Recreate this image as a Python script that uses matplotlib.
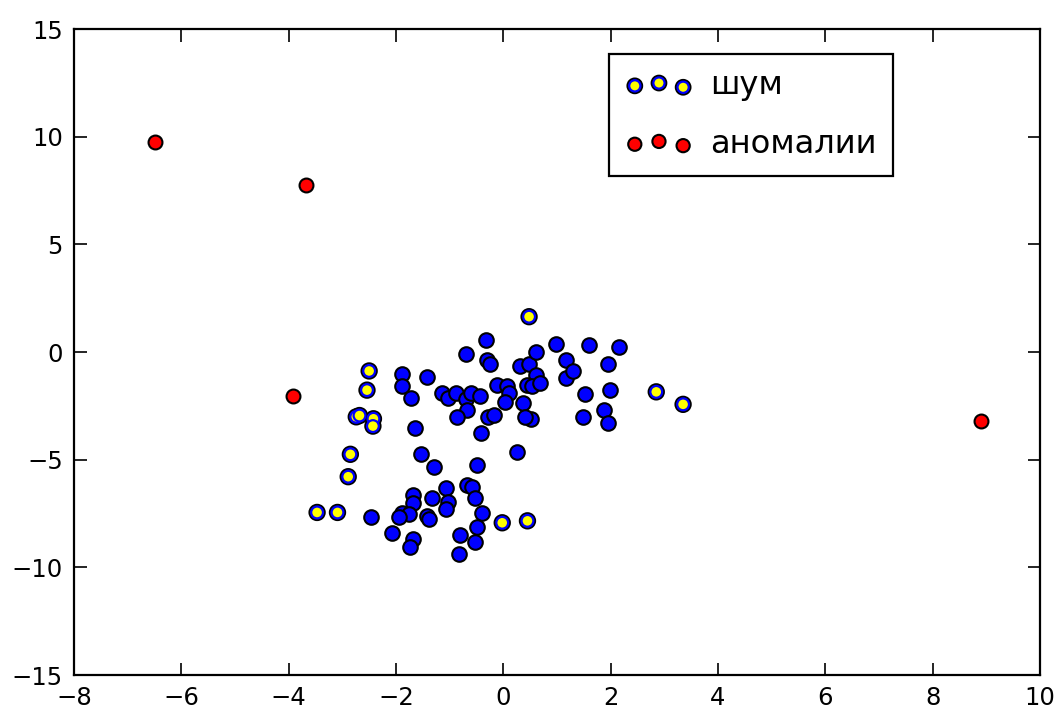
import matplotlib
matplotlib.use("Agg")
import matplotlib.pyplot as plt
import matplotlib.patheffects as pe

# Cluster members
cluster_x = [-0.69, -0.33, -0.30, -0.24, -1.88, -1.42, -1.88, -1.72, -1.14, -1.03,
             -0.89, -0.69, -0.61, -0.44, -0.67, -0.87, -0.29, -0.18, -1.65, -0.41,
             -0.11, 0.06, 0.10, 0.04, 0.32, 0.48, 0.60, 0.60, 0.45, 0.54,
             0.68, 0.36, 0.51, 0.41, 0.99, 1.16, 1.16, 1.60, 2.15, 1.96,
             1.30, 1.53, 1.99, 1.49, 1.88, 1.96, 0.25, -1.53, -1.30, -0.49,
             -1.06, -0.68, -0.58, -1.03, -1.07, -0.52, -0.40, -0.49, -0.80, -0.53,
             -0.83, -2.46, -2.07, -1.69, -1.69, -1.89, -1.76, -1.33, -1.43, -1.38,
             -1.69, -1.73, -1.95]
cluster_y = [-0.10, 0.55, -0.37, -0.57, -1.02, -1.18, -1.56, -2.14, -1.92, -2.14,
             -1.92, -2.20, -1.89, -2.05, -2.70, -3.01, -3.02, -2.93, -3.53, -3.76,
             -1.54, -1.56, -1.92, -2.31, -0.65, -0.56, 0.01, -1.07, -1.54, -1.58,
             -1.46, -2.39, -3.09, -3.02, 0.38, -0.35, -1.19, 0.32, 0.21, -0.57,
             -0.90, -1.93, -1.75, -3.01, -2.70, -3.30, -4.66, -4.74, -5.34, -5.25,
             -6.32, -6.16, -6.29, -6.96, -7.29, -6.80, -7.46, -8.14, -8.52, -8.80,
             -9.38, -7.65, -8.41, -6.64, -7.03, -7.47, -7.54, -6.78, -7.63, -7.76,
             -8.70, -9.05, -7.65]

# Noise points
noise_x = [0.48, -2.50, -2.54, -2.74, -2.68, -2.42, -2.43, -2.85, -2.89, -3.47,
           -3.09, -0.02, 0.45, 2.85, 3.35]
noise_y = [1.64, -0.88, -1.77, -3.01, -2.95, -3.10, -3.44, -4.75, -5.79, -7.45,
           -7.45, -7.93, -7.84, -1.85, -2.43]

# Anomalies
anomaly_x = [-6.49, -3.67, -3.91, 8.90]
anomaly_y = [9.75, 7.75, -2.05, -3.20]

labels = ["шум", "аномалии"]
x_ticks = [-8, -6, -4, -2, 0, 2, 4, 6, 8, 10]
y_ticks = [-15, -10, -5, 0, 5, 10, 15]

plt.rcParams["font.family"] = ["DejaVu Sans"]

fig = plt.figure(figsize=(10.6, 7.11), dpi=100, facecolor="white")
ax = fig.add_axes([0.0698, 0.0506, 0.9113, 0.9086])

ax.scatter(cluster_x, cluster_y, s=110, c="blue", edgecolors="black",
           linewidths=1.5, zorder=2)
ax.scatter(noise_x, noise_y, s=72, c="yellow", edgecolors="blue",
           linewidths=1.6, zorder=3, label=labels[0],
           path_effects=[pe.Stroke(linewidth=4.0, foreground="black"), pe.Normal()])
ax.scatter(anomaly_x, anomaly_y, s=100, c="red", edgecolors="black",
           linewidths=1.5, zorder=4, label=labels[1])

ax.set_xlim(-8, 10)
ax.set_ylim(-15, 15)
ax.set_xticks(x_ticks)
ax.set_yticks(y_ticks)
ax.tick_params(direction="in", length=9, width=1.2, top=True, right=True,
               labelsize=17.5, pad=8)
for sp in ax.spines.values():
    sp.set_linewidth(1.6)

leg = ax.legend(loc="upper right", bbox_to_anchor=(0.848, 0.961),
                borderaxespad=0, scatterpoints=3,
                scatteryoffsets=[0.375, 0.5, 0.3125], markerscale=0.95,
                fontsize=23.2, fancybox=False, framealpha=1,
                edgecolor="black", handlelength=2.1, handletextpad=0.55,
                borderpad=0.5, labelspacing=0.85)
leg.get_frame().set_linewidth(1.6)

fig.savefig("out.png", dpi=100, facecolor="white")
